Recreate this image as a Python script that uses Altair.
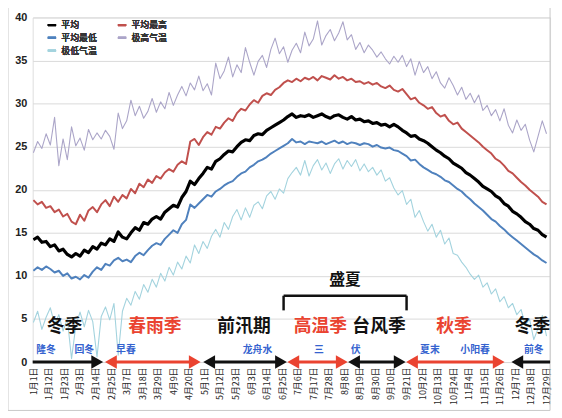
import json
import altair as alt
import pandas as pd

# sample days (day of a leap year), every 3 days
days = list(range(1, 365, 3))

mean_t = [14.2, 14.5, 13.9, 14.0, 13.4, 13.6, 12.9, 13.1, 12.5, 12.2,
          12.6, 12.3, 13.0, 12.7, 13.4, 13.1, 13.8, 13.6, 14.3, 14.0,
          15.1, 14.5, 14.3, 15.0, 15.6, 15.3, 16.2, 16.0, 16.6, 16.9,
          16.6, 17.4, 17.8, 18.2, 18.0, 19.1, 19.8, 21.0, 20.6, 21.3,
          21.9, 22.6, 22.4, 23.3, 23.6, 24.1, 24.5, 24.4, 25.0, 25.5,
          25.8, 25.7, 26.3, 26.5, 26.4, 26.9, 27.2, 27.5, 27.8, 28.1,
          28.5, 28.8, 28.4, 28.6, 28.5, 28.7, 28.4, 28.6, 28.8, 28.5,
          28.3, 28.6, 28.7, 28.4, 28.2, 28.5, 28.1, 28.2, 27.9, 28.0,
          27.7, 27.8, 27.5, 27.6, 27.3, 27.6, 27.3, 26.9, 26.6, 26.2,
          26.3, 25.9, 25.7, 25.4, 25.0, 24.6, 24.3, 23.9, 23.6, 23.1,
          22.8, 22.5, 22.0, 21.7, 21.3, 20.9, 20.4, 20.1, 19.8, 19.3,
          19.0, 18.4, 18.1, 17.5, 17.2, 16.8, 16.3, 16.0, 15.5, 15.3,
          14.8, 14.5]

mean_max = [18.8, 18.3, 18.6, 17.9, 18.1, 17.4, 17.7, 16.9, 17.2, 16.3,
            16.0, 17.1, 16.4, 17.6, 18.0, 17.4, 18.3, 18.8, 18.1, 19.2,
            18.6, 19.4, 19.0, 20.1, 19.6, 20.7, 20.3, 21.2, 20.8, 21.6,
            21.3, 22.0, 22.4, 22.1, 22.9, 23.3, 23.0, 25.6, 25.9, 25.2,
            26.1, 26.7, 26.4, 27.3, 27.1, 27.8, 28.3, 28.0, 28.9, 29.4,
            29.2, 29.9, 30.4, 30.1, 30.9, 31.2, 31.0, 31.6, 31.9, 32.4,
            32.7, 32.5, 32.9, 32.6, 33.0, 32.8, 33.1, 32.7, 33.2, 33.0,
            32.8, 33.3, 32.9, 33.1, 32.7, 32.9, 32.5, 32.6, 32.3, 32.5,
            32.2, 32.4, 32.0, 31.8, 32.1, 31.6, 31.4, 31.7, 31.1, 30.5,
            30.7, 30.1, 29.8, 29.4, 29.6, 28.9, 28.5, 28.7, 28.0, 27.6,
            27.8, 27.1, 26.7, 26.3, 25.9, 25.5, 25.0, 24.6, 24.2, 23.6,
            23.3, 22.8, 22.2, 21.9, 21.4, 20.9, 20.5, 20.0, 19.6, 19.2,
            18.6, 18.3]

mean_min = [10.6, 11.0, 10.7, 11.1, 10.8, 10.4, 10.6, 10.0, 10.3, 9.7,
            9.9, 9.6, 10.1, 9.8, 10.5, 11.0, 10.7, 11.4, 11.2, 11.8,
            12.1, 11.7, 11.9, 11.6, 12.3, 12.7, 12.4, 13.0, 13.5, 13.8,
            13.6, 14.3, 14.8, 15.3, 15.0, 16.0, 16.5, 18.3, 17.9, 18.4,
            18.9, 19.4, 19.2, 19.8, 20.1, 20.5, 20.8, 21.0, 21.5, 21.9,
            22.1, 22.6, 22.9, 23.3, 23.5, 23.8, 24.2, 24.5, 24.8, 25.1,
            25.4, 25.9, 25.5, 25.6, 25.3, 25.6, 25.5, 25.4, 25.6, 25.3,
            25.5, 25.7, 25.4, 25.6, 25.3, 25.5, 25.4, 25.2, 25.4, 25.3,
            25.0, 25.2, 24.9, 24.8, 24.9, 24.6, 24.5, 24.2, 23.9, 23.4,
            23.5, 23.0, 22.6, 22.3, 22.0, 21.8, 21.5, 21.1, 20.9, 20.5,
            20.1, 19.8, 19.3, 18.9, 18.4, 18.0, 17.6, 17.1, 16.6, 16.3,
            15.8, 15.4, 14.9, 14.5, 14.1, 13.7, 13.3, 12.9, 12.5, 12.2,
            11.8, 11.5]

ext_max = [24.3, 25.6, 24.8, 26.5, 25.2, 28.4, 22.8, 25.9, 23.5, 27.3,
           25.1, 26.0, 24.6, 27.0, 25.8, 26.6, 25.9, 26.9, 26.2, 24.7,
           28.9, 27.1, 28.0, 30.4, 28.6, 29.7, 28.3, 29.1, 30.6, 29.0,
           30.2, 29.4, 31.3, 29.8, 31.0, 32.0, 30.9, 32.4, 31.6, 33.2,
           31.5, 32.3, 31.0, 34.7, 32.9, 33.8, 35.4, 33.1, 34.5, 33.6,
           36.5, 34.8, 33.3, 34.9, 35.6, 34.2, 36.3, 37.6, 35.8, 36.6,
           34.8, 36.2, 37.0, 35.9, 38.3, 36.7, 37.5, 39.6, 36.8, 37.9,
           38.6, 37.3, 38.2, 39.5, 37.4, 38.0, 36.3, 37.1, 35.9, 36.8,
           36.2, 35.4, 36.0, 35.2, 34.6, 35.5, 34.8, 35.6, 34.3, 35.2,
           33.3, 34.9, 33.6, 34.3, 32.9, 33.7, 32.4, 31.8, 33.0, 32.1,
           31.0, 31.9, 30.5, 31.2, 30.1, 31.0, 29.2, 29.8, 28.6, 29.3,
           28.0, 29.4, 27.5, 26.6, 28.1, 26.9, 27.6, 25.8, 24.4, 26.2,
           28.0, 26.5]

ext_min = [4.6, 5.9, 3.8, 5.2, 6.3, 4.4, 5.5, 3.6, 5.0, 0.4,
           4.2, 5.8, 4.1, 6.0, 4.7, 0.6, 5.3, 6.4, 4.9, 6.8,
           0.8, 5.9, 7.4, 6.6, 8.2, 7.3, 9.0, 8.1, 9.6, 8.7,
           10.3, 9.4, 11.0, 10.1, 11.6, 10.8, 12.3, 11.5, 13.6, 12.6,
           14.0, 13.2, 14.6, 15.4, 14.5, 16.2, 15.4, 16.9, 17.7, 16.5,
           17.9, 16.8, 18.2, 18.6, 17.8, 19.3, 19.8, 18.9, 20.1, 19.6,
           21.3, 22.0, 22.6, 21.7, 23.4, 21.6, 22.8, 23.5, 22.3, 23.1,
           21.9, 23.0, 23.6, 22.4, 23.4, 22.7, 23.5, 22.2, 23.0, 22.1,
           22.6, 21.7, 22.3, 21.0, 21.4, 20.2, 19.4, 19.9, 18.3, 18.9,
           16.8, 17.6, 16.3, 15.2, 16.0, 14.5, 15.3, 13.7, 14.4, 12.6,
           12.4, 11.6, 11.0, 10.2, 9.6, 10.1, 8.7, 9.2, 7.9, 8.5,
           7.0, 7.6, 6.3, 6.8, 5.5, 6.1, 4.3, 5.0, 2.6, 3.9,
           5.4, 3.0]

series_names = ["平均", "平均最高", "平均最低", "极高气温", "极低气温"]
series_colors = ["#000000", "#c0504d", "#4f81bd", "#aba5c8", "#a3d3de"]
series_widths = [3.2, 2, 2, 1.1, 1.1]
series_values = [mean_t, mean_max, mean_min, ext_max, ext_min]
draw_order = ["极高气温", "极低气温", "平均最高", "平均最低", "平均"]
# legend fills column by column (3 rows)
legend_order = ["平均", "平均最低", "极低气温", "平均最高", "极高气温"]

tick_days = [1, 12, 23, 34, 45, 56, 67, 78, 89, 100, 111, 122, 133, 144, 155,
             166, 177, 188, 199, 210, 221, 232, 243, 254, 265, 276, 287, 298,
             309, 320, 331, 342, 353, 364]
tick_labels = ["1月1日", "1月12日", "1月23日", "2月3日", "2月14日", "2月25日",
               "3月7日", "3月18日", "3月29日", "4月9日", "4月20日", "5月1日",
               "5月12日", "5月23日", "6月3日", "6月14日", "6月25日", "7月6日",
               "7月17日", "7月28日", "8月8日", "8月19日", "8月30日", "9月10日",
               "9月21日", "10月2日", "10月13日", "10月24日", "11月4日",
               "11月15日", "11月26日", "12月7日", "12月18日", "12月29日"]
y_ticks = [0, 5, 10, 15, 20, 25, 30, 35, 40]

RED = "#ea4330"
BLACK = "#111111"
BLUE = "#3563cf"

# season arrows along the zero line: start day, end day, colour, heads
arrow_start = [0.5, 52, 121.5, 181, 224, 265, 339.5]
arrow_end = [50, 119, 180, 223, 264, 334, 366.5]
arrow_color = [BLACK, RED, BLACK, RED, BLACK, RED, BLACK]
arrow_left_head = [False, True, True, True, True, True, True]
arrow_right_head = [True, True, True, True, True, True, False]

season_names = ["冬季", "春雨季", "前汛期", "高温季", "台风季", "秋季", "冬季"]
season_days = [23, 87, 150, 204, 245.5, 298.5, 354]
season_colors = [BLACK, RED, BLACK, RED, BLACK, RED, BLACK]

sub_names = ["隆冬", "回冬", "早春", "龙舟水", "三", "伏", "夏末", "小阳春", "前冬"]
sub_days = [10, 37, 66.5, 159.5, 203, 229, 281.5, 313.5, 355]

FONT = "Noto Sans CJK SC"
DOMAIN = [0.5, 366.5]
W, H = 524, 349

rows = []
for name, vals in zip(series_names, series_values):
    for d, v in zip(days, vals):
        rows.append({"day": d, "temp": v, "series": name})
df = pd.DataFrame(rows)

xscale = alt.Scale(domain=DOMAIN, nice=False, zero=False)
yscale = alt.Scale(domain=[0, 40], nice=False)
color_scale = alt.Scale(domain=legend_order,
                        range=[series_colors[series_names.index(n)] for n in legend_order])

label_expr = "%s[indexof(%s, datum.value)]" % (
    json.dumps(tick_labels, ensure_ascii=False), json.dumps(tick_days))

x_axis = alt.Axis(values=tick_days, labelExpr=label_expr, labelAngle=270,
                  title=None, domain=False, ticks=False, grid=False,
                  labelFontSize=9, labelFont=FONT, labelColor="#2a2a2a",
                  labelPadding=5, labelOverlap=False, labelFlush=False,
                  labelBound=False)
y_axis = alt.Axis(values=y_ticks, title=None,
                  ticks=False, domain=False, grid=True, gridColor="#d9d9d9",
                  labelFontSize=11, labelFontWeight="bold", labelColor="#222222",
                  labelFont="Liberation Sans", labelPadding=6)

legend = alt.Legend(orient="none", legendX=14, legendY=2, columns=2,
                    title=None, symbolType="stroke", symbolSize=70,
                    symbolStrokeWidth=2, labelFontSize=9, labelFont=FONT,
                    labelColor="#333333", columnPadding=16, rowPadding=2,
                    padding=0)


def X(field):
    return alt.X(field, scale=xscale, axis=x_axis)


def Y(field):
    return alt.Y(field, scale=yscale, axis=y_axis)


# outer chart-area frame (decoration, pixel-positioned)
frame = alt.Chart(pd.DataFrame({"k": [0]})).mark_rect(
    fill=None, stroke="#c8c8c8", strokeWidth=1, clip=False
).encode(x=alt.value(-25), x2=alt.value(W), y=alt.value(-20), y2=alt.value(H + 49))

layers = []
for name in draw_order:
    k = series_names.index(name)
    layers.append(
        alt.Chart(df[df.series == name])
        .mark_line(strokeWidth=series_widths[k], clip=True, strokeJoin="round")
        .encode(x=X("day:Q"), y=Y("temp:Q"),
                color=alt.Color("series:N", scale=color_scale, legend=legend))
    )

# arrows
seg_rows = []
head_rows = []
for s, e, c, lh, rh in zip(arrow_start, arrow_end, arrow_color,
                           arrow_left_head, arrow_right_head):
    seg_rows.append({"s": s + (4 if lh else 0), "e": e - (4 if rh else 0),
                     "c": c, "y": 0})
    if lh:
        head_rows.append({"d": s, "c": c, "dir": "L", "y": 0})
    if rh:
        head_rows.append({"d": e, "c": c, "dir": "R", "y": 0})
seg_df = pd.DataFrame(seg_rows)
head_df = pd.DataFrame(head_rows)

segs = alt.Chart(seg_df).mark_rule(strokeWidth=3).encode(
    x=X("s:Q"), x2="e:Q", y=Y("y:Q"), color=alt.Color("c:N", scale=None))
heads_r = alt.Chart(head_df[head_df.dir == "R"]).mark_point(
    shape="triangle-right", filled=True, size=190, opacity=1, xOffset=-5.5
).encode(x=X("d:Q"), y=Y("y:Q"), color=alt.Color("c:N", scale=None))
heads_l = alt.Chart(head_df[head_df.dir == "L"]).mark_point(
    shape="triangle-left", filled=True, size=190, opacity=1, xOffset=5.5
).encode(x=X("d:Q"), y=Y("y:Q"), color=alt.Color("c:N", scale=None))

season_df = pd.DataFrame({"name": season_names, "d": season_days,
                          "c": season_colors, "y": [4.1] * len(season_names)})
season_text = alt.Chart(season_df).mark_text(
    font=FONT, fontSize=18, fontWeight="bold"
).encode(x=X("d:Q"), y=Y("y:Q"), text="name:N",
         color=alt.Color("c:N", scale=None))

sub_df = pd.DataFrame({"name": sub_names, "d": sub_days,
                       "y": [1.4] * len(sub_names)})
sub_text = alt.Chart(sub_df).mark_text(
    font=FONT, fontSize=10, fontWeight="bold", color=BLUE
).encode(x=X("d:Q"), y=Y("y:Q"), text="name:N")

# 盛夏 bracket
br_h = pd.DataFrame({"s": [178], "e": [265], "y": [7.7]})
br_v = pd.DataFrame({"d": [178, 265], "y": [6.0, 6.0], "y2": [7.7, 7.7]})
bracket_h = alt.Chart(br_h).mark_rule(strokeWidth=2.5, color=BLACK).encode(
    x=X("s:Q"), x2="e:Q", y=Y("y:Q"))
bracket_v = alt.Chart(br_v).mark_rule(strokeWidth=2.5, color=BLACK).encode(
    x=X("d:Q"), y=Y("y:Q"), y2="y2:Q")
summer_text = alt.Chart(pd.DataFrame({"t": ["盛夏"], "d": [221.5], "y": [9.5]})).mark_text(
    font=FONT, fontSize=16, fontWeight="bold", color=BLACK
).encode(x=X("d:Q"), y=Y("y:Q"), text="t:N")

chart = alt.layer(
    frame, *layers, segs, heads_r, heads_l, season_text, sub_text,
    bracket_h, bracket_v, summer_text
).resolve_scale(color="independent").properties(
    width=W, height=H,
    autosize=alt.AutoSizeParams(type="none"),
    padding={"left": 25, "top": 7, "right": 4, "bottom": 50},
).configure_view(stroke="#c8c8c8", strokeWidth=1).configure(background="white")

chart.save("out.html", embed_options={"renderer": "svg", "actions": False})
